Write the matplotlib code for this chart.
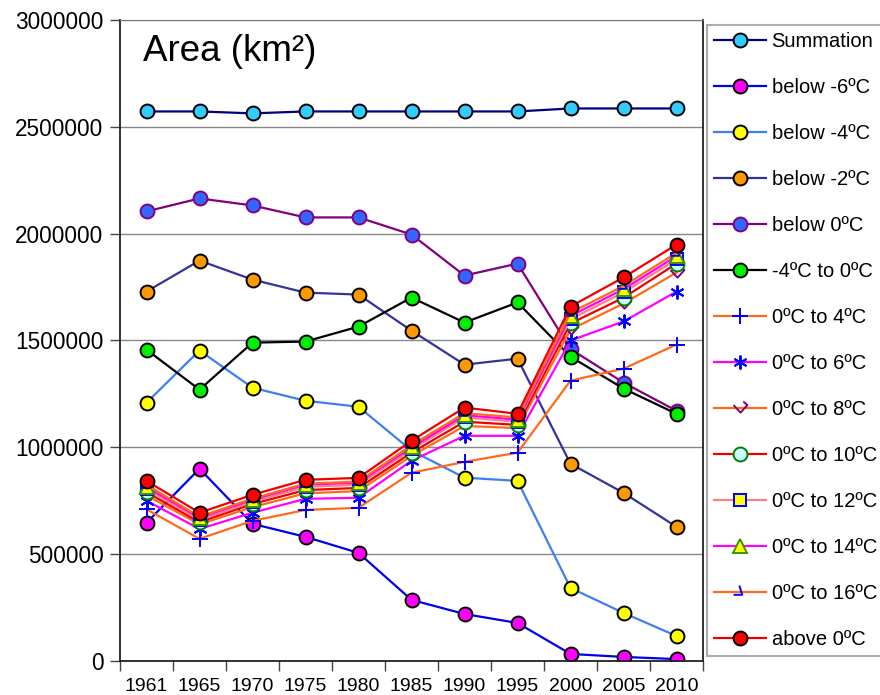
#!/usr/bin/env python3
import numpy as np
import matplotlib.pyplot as plt
from matplotlib.path import Path

plt.rcParams["font.family"] = ["Liberation Sans", "DejaVu Sans"]

years = ["1961", "1965", "1970", "1975", "1980", "1985", "1990", "1995", "2000", "2005", "2010"]

summation = [2572000, 2572000, 2563000, 2572000, 2572000, 2572000, 2572000, 2572000, 2586000, 2586000, 2586000]
below_m6 = [647000, 900000, 642000, 581000, 506000, 286000, 220000, 178000, 33000, 19000, 9000]
below_m4 = [1209000, 1453000, 1279000, 1218000, 1190000, 985000, 858000, 843000, 342000, 225000, 117000]
below_m2 = [1729000, 1874000, 1785000, 1724000, 1715000, 1546000, 1387000, 1415000, 923000, 787000, 628000]
below_0 = [2104000, 2165000, 2132000, 2076000, 2076000, 1996000, 1804000, 1860000, 1460000, 1303000, 1171000]
m4_to_0 = [1457000, 1270000, 1490000, 1495000, 1565000, 1701000, 1584000, 1678000, 1424000, 1275000, 1157000]
to_4 = [710000, 572000, 656000, 707000, 717000, 881000, 932000, 975000, 1312000, 1368000, 1481000]
to_6 = [750000, 618000, 694000, 759000, 764000, 937000, 1054000, 1054000, 1500000, 1589000, 1729000]
to_8 = [775000, 640000, 720000, 785000, 795000, 960000, 1100000, 1090000, 1551000, 1673000, 1818000]
to_10 = [790000, 650000, 735000, 800000, 810000, 975000, 1120000, 1105000, 1580000, 1700000, 1860000]
to_12 = [805000, 660000, 745000, 815000, 825000, 990000, 1140000, 1120000, 1600000, 1725000, 1880000]
to_14 = [815000, 670000, 755000, 825000, 835000, 1000000, 1150000, 1130000, 1615000, 1740000, 1895000]
to_16 = [825000, 675000, 760000, 830000, 840000, 1010000, 1160000, 1140000, 1630000, 1755000, 1910000]
above_0 = [843000, 694000, 778000, 848000, 857000, 1031000, 1186000, 1157000, 1659000, 1795000, 1949000]

y_ticks = [0, 500000, 1000000, 1500000, 2000000, 2500000, 3000000]

# odd markers used in the original
hook = Path([(-0.1, 0.6), (0.15, -0.2), (-0.6, -0.2)], [Path.MOVETO, Path.LINETO, Path.LINETO])
half_diamond = Path([(-0.5, 0.25), (0.0, -0.3), (0.5, 0.25), (0.2, 0.5)],
                    [Path.MOVETO, Path.LINETO, Path.LINETO, Path.LINETO])

# (label, values, line colour, marker, face, edge)
series = [
    ("Summation", summation, "#000080", "o", "#33ccff", "black"),
    ("below -6ºC", below_m6, "#0000ee", "o", "#ff00ff", "black"),
    ("below -4ºC", below_m4, "#3d7ff0", "o", "#ffff00", "black"),
    ("below -2ºC", below_m2, "#333399", "o", "#ff9900", "black"),
    ("below 0ºC", below_0, "#800080", "o", "#3366ff", "#800080"),
    ("-4ºC to 0ºC", m4_to_0, "black", "o", "#00ee00", "black"),
    ("0ºC to 4ºC", to_4, "#ff6a1a", "+", "#0000ff", "#0000ff"),
    ("0ºC to 6ºC", to_6, "#ff00ff", (6, 2, 0), "#0000ff", "#0000ff"),
    ("0ºC to 8ºC", to_8, "#ff6a1a", half_diamond, "none", "#800080"),
    ("0ºC to 10ºC", to_10, "#ee0000", "o", "#ccffff", "#008000"),
    ("0ºC to 12ºC", to_12, "#ff8080", "s", "#ffff00", "#0000ff"),
    ("0ºC to 14ºC", to_14, "#ff00ff", "^", "#ffff00", "#339900"),
    ("0ºC to 16ºC", to_16, "#ff6a1a", hook, "none", "#0000ff"),
    ("above 0ºC", above_0, "#ee0000", "o", "#ff0000", "black"),
]

fig = plt.figure(figsize=(8.8, 6.95), dpi=100)
ax = fig.add_axes([120 / 880, 1 - 661 / 695, 583 / 880, 641 / 695])

x = np.arange(len(years))
for label, vals, lc, mk, fc, ec in series:
    ms = 10
    if mk in ("+",):
        ms = 12
    elif mk == "s":
        ms = 9
    ax.plot(x, vals, color=lc, lw=1.6, marker=mk, markersize=ms,
            markerfacecolor=fc, markeredgecolor=ec, markeredgewidth=1.4, label=label)

ax.set_xlim(-0.5, len(years) - 0.5)
ax.set_ylim(0, 3000000)
ax.set_yticks(y_ticks)
ax.set_yticklabels([str(v) for v in y_ticks], fontsize=16.3)
ax.set_xticks(np.arange(-0.5, len(years)), [""] * (len(years) + 1))
ax.set_xticks(x, years, minor=True, fontsize=14)
ax.tick_params(axis="x", which="major", length=7, width=1, color="#444444")
ax.tick_params(axis="x", which="minor", length=0, pad=12.5)
ax.tick_params(axis="y", length=7, width=1, color="#444444", pad=5)
ax.yaxis.grid(True, color="#888888", lw=1)
ax.set_axisbelow(True)
for side in ["left", "bottom", "right"]:
    ax.spines[side].set_color("#222222")
    ax.spines[side].set_linewidth(1.3)
ax.spines["top"].set_color("#777777")

ax.text(0.04, 0.978, "Area (km²)", transform=ax.transAxes, fontsize=26.5, va="top", ha="left")

leg = ax.legend(loc="upper left", bbox_to_anchor=(1.007, 0.992), borderaxespad=0, fontsize=14.5,
                frameon=True, fancybox=False, edgecolor="#999999", handlelength=2.6,
                handletextpad=0.25, labelspacing=1.34, borderpad=0.35)
leg.get_frame().set_linewidth(1.5)

plt.savefig("out.png", dpi=100)
